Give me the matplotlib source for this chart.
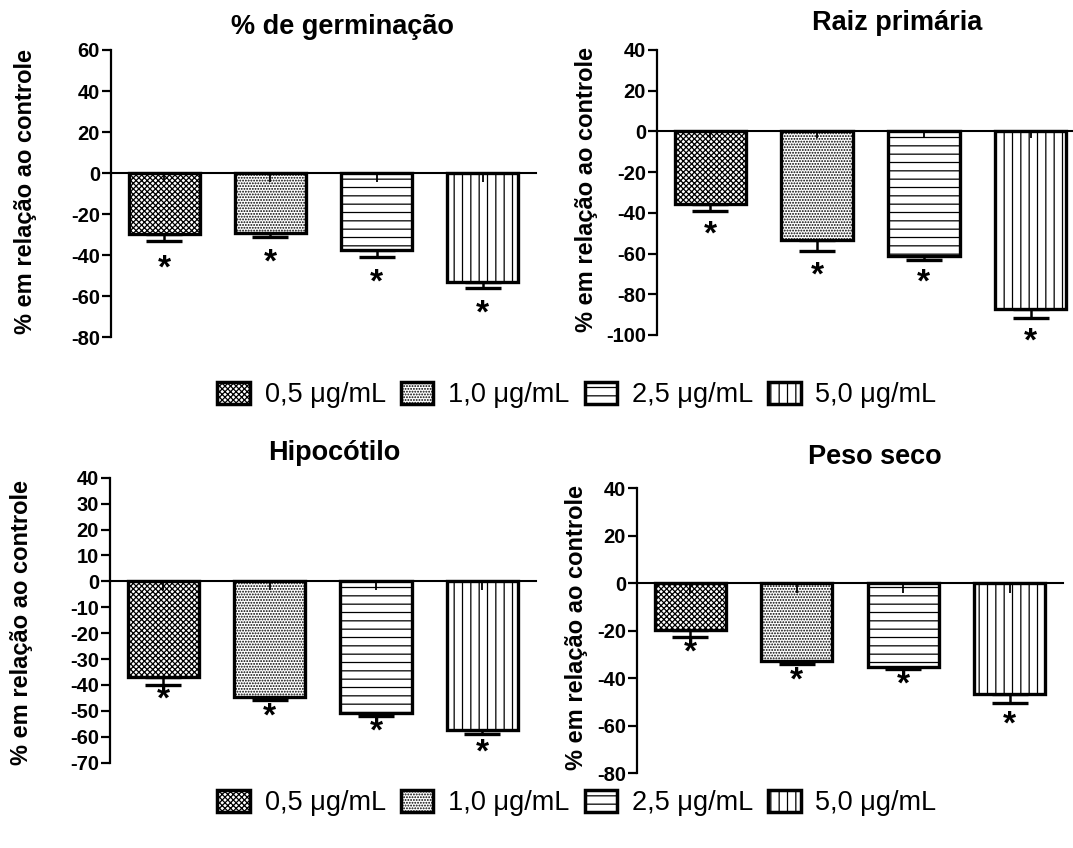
import matplotlib
matplotlib.use("Agg")
import matplotlib.pyplot as plt
from matplotlib.patches import Patch
import numpy as np

plt.rcParams['font.family'] = ['Liberation Sans', 'DejaVu Sans']
plt.rcParams['hatch.linewidth'] = 0.9
plt.rcParams['axes.unicode_minus'] = False

doses = ['0,5 μg/mL', '1,0 μg/mL', '2,5 μg/mL', '5,0 μg/mL']
hatches = ['xxxxxx', '......', '--', '||']
ylabel = '% em relação ao controle'

titles = ['% de germinação', 'Raiz primária', 'Hipocótilo', 'Peso seco']

# mean (% of control), error, asterisk position, control error
germ_vals = [-29.6, -29.1, -37.4, -53.1]
germ_err = [3.6, 1.8, 3.6, 2.8]
germ_star = [-44.2, -41.3, -50.7, -66.1]
germ_ctrl = [4.4, 4.4, 4.4, 4.4]

raiz_vals = [-35.5, -53.2, -61.4, -87.3]
raiz_err = [3.5, 5.7, 1.6, 4.4]
raiz_star = [-48.0, -68.3, -71.6, -100.7]
raiz_ctrl = [3.3, 3.3, 3.3, 3.3]

hipo_vals = [-37.1, -44.8, -50.8, -57.2]
hipo_err = [2.8, 0.9, 1.0, 1.7]
hipo_star = [-43.7, -50.2, -56.0, -64.1]
hipo_ctrl = [3.2, 3.2, 3.2, 3.2]

peso_vals = [-19.6, -32.7, -35.2, -46.7]
peso_err = [3.0, 1.1, 0.7, 3.5]
peso_star = [-27.1, -39.0, -40.4, -57.3]
peso_ctrl = [3.9, 3.9, 3.9, 3.9]

yticks = [np.arange(-80, 61, 20), np.arange(-100, 41, 20),
          np.arange(-70, 41, 10), np.arange(-80, 41, 20)]

W, H = 1073, 848
fig = plt.figure(figsize=(W / 100, H / 100), dpi=100)

# axes boxes in pixels: left, right, top, bottom
boxes = [(111, 536, 50, 337.3), (657, 1084, 50, 335),
         (110, 535.5, 477.7, 762.7), (637, 1063, 488.3, 773.3)]
title_pos = [(342, 26.7), (897, 23.3), (334, 453), (875, 456.7)]
ylabel_pos = [(26, 191.7), (586, 190), (22, 622.5), (576, 628)]

panels = [(germ_vals, germ_err, germ_star, germ_ctrl),
          (raiz_vals, raiz_err, raiz_star, raiz_ctrl),
          (hipo_vals, hipo_err, hipo_star, hipo_ctrl),
          (peso_vals, peso_err, peso_star, peso_ctrl)]

x = np.arange(len(doses))
for i, (vals, err, star, ctrl) in enumerate(panels):
    l, r, t, b = boxes[i]
    ax = fig.add_axes([l / W, 1 - b / H, (r - l) / W, (b - t) / H])
    ax.bar(x, vals, width=0.67, color='white', edgecolor='black',
           hatch=hatches, linewidth=2.4, zorder=3)
    ax.errorbar(x, vals, yerr=[err, np.zeros(4)], fmt='none', ecolor='black',
                elinewidth=1.8, capsize=13, capthick=2.4, zorder=2)
    ax.errorbar(x, np.zeros(4), yerr=[ctrl, np.zeros(4)], fmt='none',
                ecolor='black', elinewidth=1.3, capsize=0, zorder=4)
    for xi, s in zip(x, star):
        # '*' glyph sits high in its box, so nudge it down a little
        ax.annotate('*', (xi, s), xytext=(0, -4), textcoords='offset points',
                    ha='center', va='center', fontsize=24, fontweight='bold',
                    annotation_clip=False)
    yt = yticks[i]
    ax.set_ylim(yt[0], yt[-1])
    ax.set_xlim(-0.5, 3.5)
    ax.set_yticks(yt)
    ax.set_xticks([])
    ax.tick_params(axis='y', length=6.5, width=1.6, pad=1.5, labelsize=14.5)
    for lab in ax.get_yticklabels():
        lab.set_fontweight('bold')
    ax.spines['top'].set_visible(False)
    ax.spines['right'].set_visible(False)
    ax.spines['left'].set_linewidth(1.6)
    ax.spines['bottom'].set_position(('data', 0))
    ax.spines['bottom'].set_linewidth(1.5)
    ax.spines['bottom'].set_zorder(5)
    ax.patch.set_alpha(0)

    tx, ty = title_pos[i]
    fig.text(tx / W, 1 - ty / H, titles[i], ha='center', va='center',
             fontsize=19.5, fontweight='bold')
    lx, ly = ylabel_pos[i]
    fig.text(lx / W, 1 - ly / H, ylabel, ha='center', va='center',
             rotation=90, fontsize=17, fontweight='bold')

handles = [Patch(facecolor='white', edgecolor='black', hatch=h, linewidth=2.5)
           for h in hatches]
for ly in [395, 803]:
    fig.legend(handles, doses, loc='center', bbox_to_anchor=(577 / W, 1 - ly / H),
               ncol=4, frameon=False, fontsize=19.5, handlelength=1.2,
               handleheight=0.9, handletextpad=0.55, columnspacing=0.55,
               borderpad=0, borderaxespad=0)

fig.savefig('out.png', dpi=100)
